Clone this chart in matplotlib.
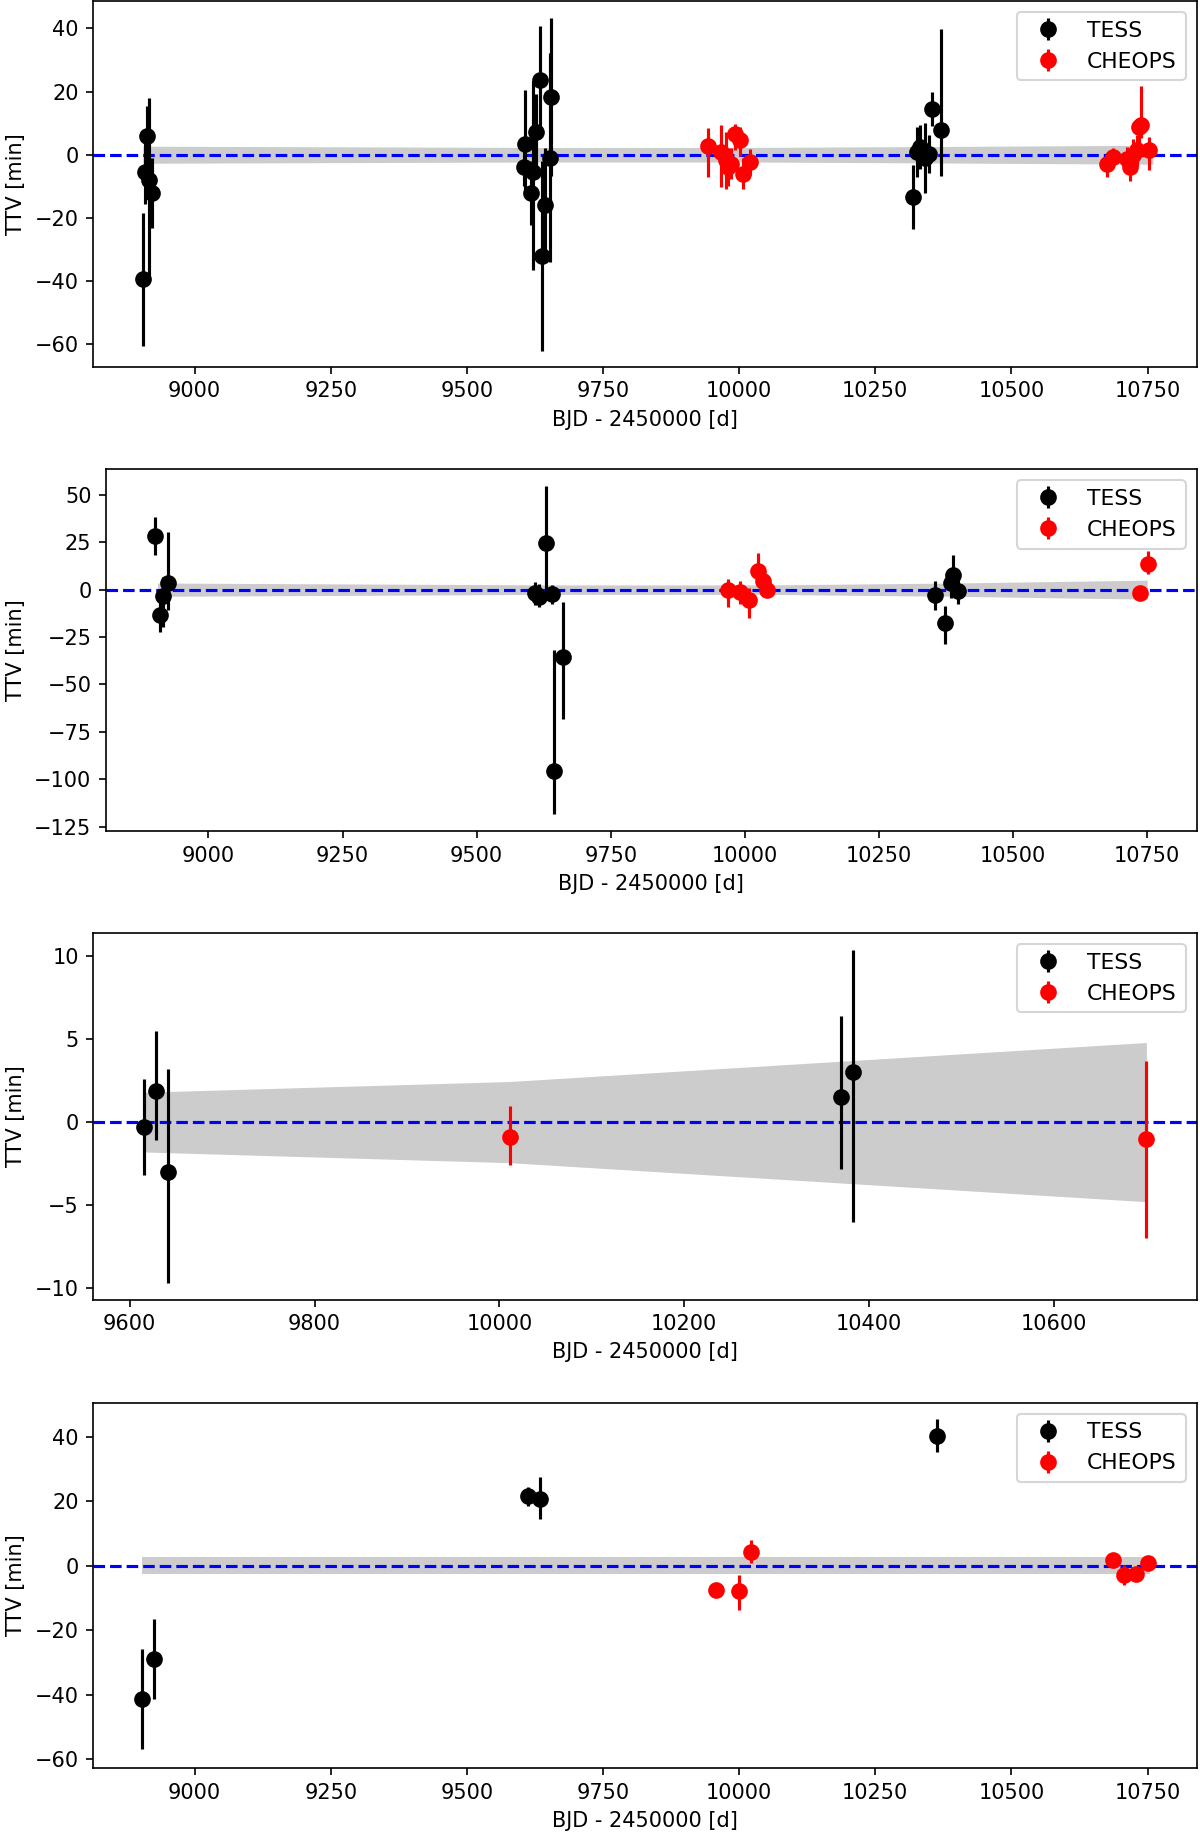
import matplotlib
matplotlib.use("Agg")
import matplotlib.pyplot as plt
import numpy as np

# ---------------- Panel 1 ----------------
p1_tess_x = [8906, 8908, 8912, 8917, 8921,
             9604, 9606, 9617, 9621, 9627.5, 9634.8, 9638, 9643, 9652, 9654.4,
             10320, 10326, 10333, 10341, 10348, 10355, 10371]
p1_tess_y = [-39.5, -5.5, 5.8, -7.9, -12.1,
             -3.9, 3.5, -12.1, -5.5, 7.1, 23.7, -32.1, -16.0, -0.9, 18.2,
             -13.4, 0.8, 2.5, -1.0, 0.3, 14.5, 7.9]
p1_tess_elo = [21, 10, 9.5, 32, 11,
               6, 17, 10, 31, 12, 17, 30, 18, 33, 25,
               10, 8, 7, 11, 6, 5.5, 14.5]
p1_tess_ehi = [21, 10, 9.5, 26, 11,
               6, 17, 10, 29, 12, 17, 30, 18, 33, 25,
               10, 8, 7, 11, 6, 5.5, 32]
p1_cheops_x = [9942, 9967, 9975, 9980, 9985, 9993, 10002, 10007, 10020,
               10675, 10687, 10712, 10718, 10724, 10730, 10734, 10738, 10753]
p1_cheops_y = [2.9, 0.8, -1.8, -3.9, -2.8, 6.6, 4.7, -6.0, -2.3,
               -2.9, -0.8, -1.5, -3.9, 0.0, 1.4, 8.7, 9.3, 1.6]
p1_cheops_elo = [10, 11, 9, 6, 5, 5, 5, 5, 4,
                 4, 3, 4, 4.5, 5, 5, 5, 4, 6.5]
p1_cheops_ehi = [5.5, 8.5, 9, 6, 5, 3, 4, 5, 4,
                 3.5, 3, 4, 4.5, 5, 5, 3, 12.6, 4]
p1_band_x = [8905, 9640, 10010, 10360, 10760]
p1_band_w = [2.7, 2.3, 2.3, 2.6, 3.0]

# ---------------- Panel 2 ----------------
p2_tess_x = [8900.6, 8910, 8916, 8924,
             9609, 9617, 9629, 9640, 9644, 9660.6,
             10355, 10373, 10384, 10388, 10398]
p2_tess_y = [28.1, -13.5, -3.5, 3.5,
             -2.0, -4.0, 24.6, -2.5, -95.6, -35.4,
             -2.6, -17.5, 3.5, 7.9, -0.5]
p2_tess_elo = [10, 9, 16, 14,
               6, 5, 27, 5, 23, 33,
               8, 11, 8, 8, 7]
p2_tess_ehi = [10, 10, 10, 27,
               6, 7, 30, 5, 64, 29,
               7, 9, 8, 10.5, 7]
p2_cheops_x = [9968, 9991, 10007, 10024, 10033, 10041, 10737, 10752]
p2_cheops_y = [-0.4, -1.5, -5.3, 9.6, 4.4, 0.0, -2.0, 13.3]
p2_cheops_elo = [8.5, 6, 9.5, 6, 5, 4, 3, 5]
p2_cheops_ehi = [6, 6, 6, 9.7, 5, 4, 3, 7]
p2_band_x = [8905, 9640, 10040, 10390, 10750]
p2_band_w = [3.5, 2.5, 2.5, 3.5, 5.0]

# ---------------- Panel 3 ----------------
p3_tess_x = [9615, 9628, 9642, 10370, 10383]
p3_tess_y = [-0.3, 1.9, -3.0, 1.5, 3.05]
p3_tess_elo = [2.9, 3.0, 6.7, 4.3, 9.1]
p3_tess_ehi = [2.9, 3.6, 6.2, 4.9, 7.3]
p3_cheops_x = [10012, 10700]
p3_cheops_y = [-0.9, -1.0]
p3_cheops_elo = [1.7, 6.0]
p3_cheops_ehi = [1.9, 4.7]
p3_band_x = [9615, 10012, 10700]
p3_band_w = [1.8, 2.45, 4.8]

# ---------------- Panel 4 ----------------
p4_tess_x = [8904, 8925, 9613, 9634, 10363]
p4_tess_y = [-41.4, -29.0, 21.5, 20.5, 40.3]
p4_tess_elo = [15.5, 12.4, 3, 6, 5]
p4_tess_ehi = [15.5, 12.4, 3, 7, 5]
p4_cheops_x = [9957, 10000, 10021, 10687, 10707, 10728, 10750]
p4_cheops_y = [-7.6, -7.8, 4.3, 1.8, -2.9, -2.5, 0.9]
p4_cheops_elo = [2, 6, 3.5, 2, 3, 2, 2]
p4_cheops_ehi = [2, 5, 3.5, 2, 3, 2, 2]
p4_band_x = [8904, 10755]
p4_band_w = [2.7, 2.7]

panels = [
    dict(tx=p1_tess_x, ty=p1_tess_y, tlo=p1_tess_elo, thi=p1_tess_ehi,
         cx=p1_cheops_x, cy=p1_cheops_y, clo=p1_cheops_elo, chi=p1_cheops_ehi,
         bx=p1_band_x, bw=p1_band_w, xlim=(8814, 10840), ylim=(-67.1, 48.7),
         yticks=[-60, -40, -20, 0, 20, 40], xticks=[9000, 9250, 9500, 9750, 10000, 10250, 10500, 10750],
         pos=[0.0778, 0.8003, 0.9193, 0.1992]),
    dict(tx=p2_tess_x, ty=p2_tess_y, tlo=p2_tess_elo, thi=p2_tess_ehi,
         cx=p2_cheops_x, cy=p2_cheops_y, clo=p2_cheops_elo, chi=p2_cheops_ehi,
         bx=p2_band_x, bw=p2_band_w, xlim=(8809, 10842), ylim=(-127.3, 63.5),
         yticks=[-125, -100, -75, -50, -25, 0, 25, 50], xticks=[9000, 9250, 9500, 9750, 10000, 10250, 10500, 10750],
         pos=[0.0883, 0.5474, 0.9088, 0.1970]),
    dict(tx=p3_tess_x, ty=p3_tess_y, tlo=p3_tess_elo, thi=p3_tess_ehi,
         cx=p3_cheops_x, cy=p3_cheops_y, clo=p3_cheops_elo, chi=p3_cheops_ehi,
         bx=p3_band_x, bw=p3_band_w, xlim=None, ylim=(-10.7, 11.4),
         yticks=[-10, -5, 0, 5, 10], xticks=[9600, 9800, 10000, 10200, 10400, 10600],
         pos=[0.0778, 0.2922, 0.9193, 0.1996]),
    dict(tx=p4_tess_x, ty=p4_tess_y, tlo=p4_tess_elo, thi=p4_tess_ehi,
         cx=p4_cheops_x, cy=p4_cheops_y, clo=p4_cheops_elo, chi=p4_cheops_ehi,
         bx=p4_band_x, bw=p4_band_w, xlim=(8814, 10840), ylim=(-62.8, 50.5),
         yticks=[-60, -40, -20, 0, 20, 40], xticks=[9000, 9250, 9500, 9750, 10000, 10250, 10500, 10750],
         pos=[0.0778, 0.0369, 0.9193, 0.1991]),
]

fig = plt.figure(figsize=(8, 12.24), dpi=150)

for p in panels:
    ax = fig.add_axes(p["pos"])
    bx = np.array(p["bx"], dtype=float)
    bw = np.array(p["bw"], dtype=float)
    ax.fill_between(bx, -bw, bw, color="0.8", lw=0, zorder=1)
    ax.axhline(0, color="b", ls="--", lw=1.5, zorder=2)
    ax.errorbar(p["tx"], p["ty"], yerr=[p["tlo"], p["thi"]], fmt="o", color="k",
                ms=7, lw=1.5, capsize=0, zorder=3, label="TESS")
    ax.errorbar(p["cx"], p["cy"], yerr=[p["clo"], p["chi"]], fmt="o", color="r",
                ms=7, lw=1.5, capsize=0, zorder=3, label="CHEOPS")
    if p["xlim"] is not None:
        ax.set_xlim(*p["xlim"])
    ax.set_ylim(*p["ylim"])
    ax.set_yticks(p["yticks"])
    ax.set_xticks(p["xticks"])
    ax.set_xlabel("BJD - 2450000 [d]")
    ax.set_ylabel("TTV [min]")
    ax.legend(loc="upper right", fontsize=10.5)

fig.savefig("out.png", dpi=150)
